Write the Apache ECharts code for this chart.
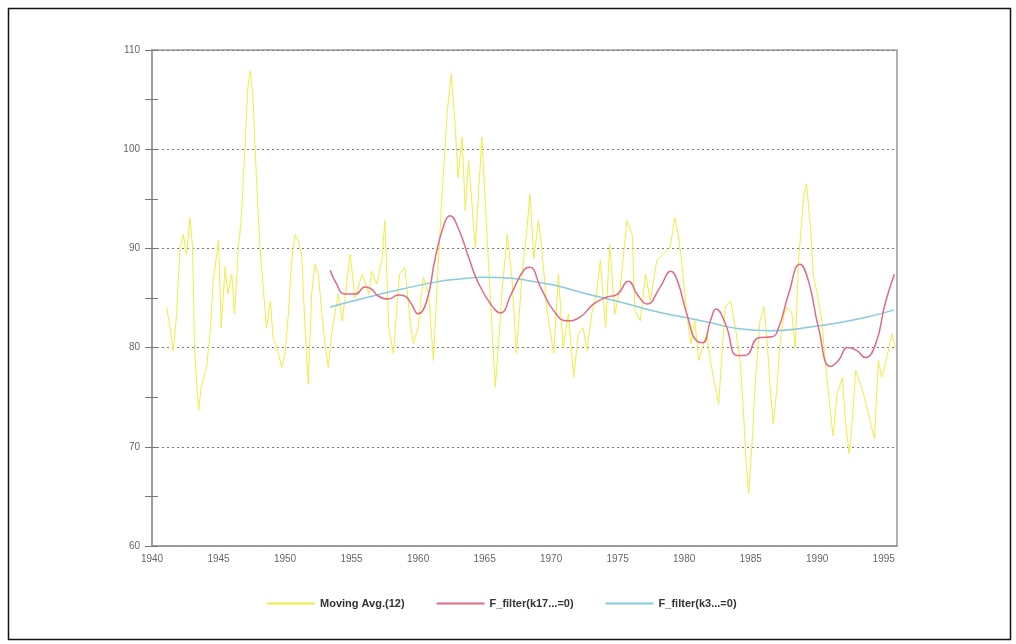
<!DOCTYPE html>
<html>
<head>
<meta charset="utf-8">
<script src="https://cdn.jsdelivr.net/npm/echarts@6/dist/echarts.min.js"></script>
<style>html,body{margin:0;padding:0;background:#fff;}#c{width:1016px;height:644px;}</style>
</head>
<body>
<div id="c"></div>
<script>
// ---- data (year, value) ----
const seriesNames = ["Moving Avg.(12)", "F_filter(k17...=0)", "F_filter(k3...=0)"];
const xTicks = [1940, 1945, 1950, 1955, 1960, 1965, 1970, 1975, 1980, 1985, 1990, 1995];
const yTicks = [60, 70, 80, 90, 100, 110];

const movingAvgYears = [
1941.1,1941.35,1941.6,1941.85,1942.1,1942.35,1942.6,1942.85,1943.05,1943.2,1943.5,1943.7,1944.1,1944.4,1944.6,
1945.0,1945.2,1945.5,1945.7,1946.0,1946.2,1946.5,1946.7,1947.0,1947.2,1947.4,1947.6,1947.85,1948.1,1948.4,1948.6,
1948.9,1949.1,1949.4,1949.75,1950.0,1950.25,1950.5,1950.75,1951.0,1951.25,1951.5,1951.75,1952.0,1952.25,1952.5,
1952.75,1953.0,1953.25,1953.5,1953.75,1954.0,1954.3,1954.6,1954.9,1955.25,1955.8,1956.3,1956.5,1956.9,1957.3,
1957.5,1957.8,1958.15,1958.6,1959.0,1959.4,1959.65,1960.0,1960.4,1960.8,1961.15,1961.4,1961.8,1962.2,1962.5,
1962.8,1963.0,1963.3,1963.55,1963.8,1964.05,1964.3,1964.8,1965.15,1965.5,1965.8,1966.05,1966.3,1966.7,1967.05,
1967.4,1967.8,1968.2,1968.4,1968.7,1969.05,1969.3,1969.7,1970.2,1970.55,1970.9,1971.3,1971.7,1972.05,1972.4,
1972.7,1973.05,1973.4,1973.7,1974.1,1974.4,1974.8,1975.2,1975.7,1976.1,1976.3,1976.7,1977.1,1977.45,1977.95,
1978.4,1978.95,1979.3,1979.55,1979.8,1980.2,1980.5,1980.8,1981.1,1981.45,1981.7,1981.9,1982.2,1982.6,1982.8,
1983.1,1983.5,1983.85,1984.2,1984.45,1984.65,1984.85,1985.1,1985.35,1985.7,1986.0,1986.2,1986.5,1986.7,1986.95,
1987.2,1987.5,1987.75,1988.1,1988.35,1988.6,1989.0,1989.2,1989.5,1989.7,1990.1,1990.35,1990.6,1991.0,1991.2,
1991.5,1991.9,1992.1,1992.4,1992.6,1992.9,1993.15,1993.5,1993.85,1994.3,1994.6,1994.85,1995.2,1995.6,1995.9
];
const movingAvgValues = [
84.1,82,79.7,83.4,90.1,91.4,89.4,93.1,90.1,79.7,73.7,76,78,82,86.7,
90.8,82,88.1,85.4,87.4,83.4,90.1,92.8,100.5,106.2,107.9,104.9,97.1,90.4,85.4,82,
84.7,81,80,78,79.4,83.4,88.8,91.4,90.8,89.4,82,76.3,85.4,88.4,87.4,
83.7,80.4,78,81.4,83.4,85.4,82.7,86,89.4,85,87.4,85.4,87.7,86.4,89,
92.8,82,79.4,87.4,88.1,82.7,80.4,82,87.1,85.4,78.7,85.4,95.5,103.9,107.6,
102.2,97.1,101.2,93.8,98.8,94.5,90.1,101.2,92.1,83.4,76,80.4,85.4,91.4,87.1,
79.4,87.1,92.1,95.5,89,92.8,90.1,83.7,79.4,87.4,80,83.4,77,81.4,82,
79.7,83.4,85.4,88.8,82,90.4,83.4,86.1,92.8,91.4,83.7,82.7,87.4,84.7,88.8,
89.4,90.1,93.1,91.4,88.8,83.4,80.4,82.7,78.7,80.4,81.4,79.4,77,74.3,78.7,
84.1,84.7,82,78.7,73.7,68.6,65.3,70.3,76.5,82.7,84.1,81.4,75.3,72.3,75.5,
80.4,83.4,84.1,83.4,80,88.8,95.5,96.5,92.1,87.4,84.7,82.7,78.7,73.4,71.1,
75.3,77,73,69.3,72,77.7,76.7,75.3,73.3,70.8,78.7,77,78.7,81.4,80
];

const filter17Years = [
1953.4,1953.8,1954.5,1955.3,1956.0,1956.5,1957.0,1957.8,1958.5,1959.0,1959.5,1960.0,1960.65,1961.3,1962.0,1962.4,
1963.0,1963.8,1964.5,1965.5,1966.2,1967.0,1968.0,1968.4,1969.2,1970.2,1971.2,1972.2,1973.2,1974.2,1975.0,1975.8,
1976.5,1977.2,1978.2,1979.0,1979.5,1980.2,1981.0,1981.4,1982.0,1982.4,1983.1,1984.0,1984.6,1985.6,1986.6,1987.1,
1987.85,1988.7,1989.35,1990.1,1991.0,1991.6,1992.3,1993.0,1993.6,1994.4,1995.1,1995.8
];
const filter17Values = [
87.8,86.6,85.4,85.4,86.1,85.9,85.2,84.9,85.3,85.2,84.4,83.4,84.7,89.1,92.6,93.3,
92.1,89.1,86.6,84.3,83.5,85.4,87.9,88.1,86.1,83.7,82.7,83.1,84.4,85.1,85.4,86.7,
85.3,84.4,86.1,87.7,86.7,83.4,80.6,80.5,82.8,83.9,82.4,79.2,79.2,81.0,81.1,82.0,
85.4,88.4,86.7,82.0,78.1,78.7,80.0,79.7,79.0,80.4,84.4,87.4
];

const filter3Years = [
1953.4,1956.3,1958.8,1961.3,1963.0,1965.0,1967.0,1968.5,1970.2,1972.7,1975.2,1977.7,1980.2,1982.0,1984.1,1986.6,
1989.1,1991.6,1994.1,1995.8
];
const filter3Values = [
84.1,85.1,85.9,86.6,86.9,87.1,87.0,86.7,86.3,85.4,84.6,83.7,83.0,82.5,81.9,81.7,
82.0,82.5,83.2,83.8
];

const pair = (xs, ys) => xs.map((x, i) => [x, ys[i]]);

const colors = ['#eeee44', '#e26a86', '#86cce0'];
const chart = echarts.init(document.getElementById('c'));
const axisFont = { color: '#666', fontSize: 10, fontFamily: 'Liberation Sans, Arial, sans-serif' };
chart.setOption({
  backgroundColor: '#fff',
  animation: false,
  color: colors,
  graphic: [{
    type: 'rect', left: 6, top: 6, z: -1,
    shape: { width: 1002, height: 631 },
    style: { fill: 'none', stroke: '#111', lineWidth: 1.5 }
  }],
  grid: { left: 152, right: 119, top: 50, bottom: 98, show: true, borderColor: '#999', borderWidth: 1.5, backgroundColor: 'transparent' },
  legend: {
    bottom: 30, left: 262, itemGap: 32, itemWidth: 48, itemHeight: 2, icon: 'rect',
    textStyle: { color: '#333', fontSize: 11, fontWeight: 'bold', fontFamily: 'Liberation Sans, Arial, sans-serif' },
    data: seriesNames
  },
  xAxis: {
    type: 'value', min: 1940, max: 1996, interval: 5,
    axisLine: { lineStyle: { color: '#999', width: 1.5 } },
    axisTick: { show: false },
    splitLine: { show: false },
    axisLabel: Object.assign({ margin: 8, showMaxLabel: false,
      formatter: v => xTicks.includes(v) ? String(v) : '' }, axisFont)
  },
  yAxis: [{
    type: 'value', min: yTicks[0], max: yTicks[yTicks.length - 1], interval: 10,
    axisLine: { show: true, lineStyle: { color: '#999', width: 1.5 } },
    axisTick: { show: true, length: 7, lineStyle: { color: '#777' } },
    minorTick: { show: true, splitNumber: 2, length: 7, lineStyle: { color: '#777' } },
    splitLine: { show: true, lineStyle: { color: '#777', type: [2, 3], width: 1 } },
    axisLabel: Object.assign({ margin: 12 }, axisFont)
  }, {
    type: 'value', min: 60, max: 110, interval: 5, position: 'left',
    axisLine: { show: false },
    axisTick: { show: true, inside: true, length: 6, lineStyle: { color: '#777' } },
    splitLine: { show: false },
    axisLabel: { show: false }
  }],
  series: [{
    name: seriesNames[0], type: 'line', yAxisIndex: 0, showSymbol: false, symbol: 'none',
    data: pair(movingAvgYears, movingAvgValues),
    lineStyle: { color: colors[0], width: 1 }, itemStyle: { color: colors[0] }, z: 2
  }, {
    name: seriesNames[1], type: 'line', yAxisIndex: 0, smooth: true, showSymbol: false, symbol: 'none',
    data: pair(filter17Years, filter17Values),
    lineStyle: { color: colors[1], width: 1.5 }, itemStyle: { color: colors[1] }, z: 4
  }, {
    name: seriesNames[2], type: 'line', yAxisIndex: 0, smooth: true, showSymbol: false, symbol: 'none',
    data: pair(filter3Years, filter3Values),
    lineStyle: { color: colors[2], width: 1.5 }, itemStyle: { color: colors[2] }, z: 3
  }]
});
</script>
</body>
</html>
